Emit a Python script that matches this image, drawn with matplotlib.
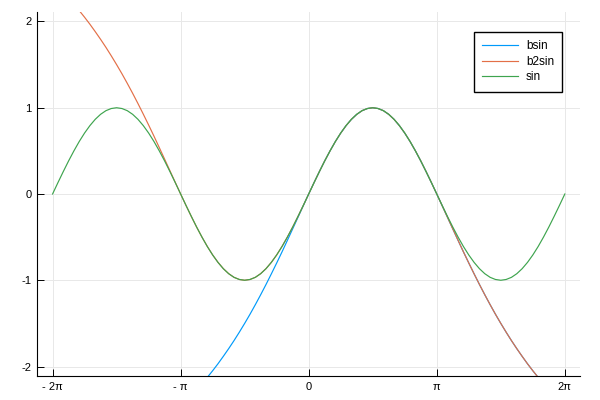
import numpy as np
import matplotlib
matplotlib.use('Agg')
import matplotlib.pyplot as plt

plt.rcParams['font.family'] = ['Liberation Sans', 'DejaVu Sans']
plt.rcParams['axes.unicode_minus'] = False

# sample grid: -2pi .. 2pi in steps of pi/24
x = np.linspace(-2 * np.pi, 2 * np.pi, 97)

sin_period = [0.000, 0.131, 0.259, 0.383, 0.500, 0.609, 0.707, 0.793, 0.866, 0.924, 0.966, 0.991,
              1.000, 0.991, 0.966, 0.924, 0.866, 0.793, 0.707, 0.609, 0.500, 0.383, 0.259, 0.131,
              0.000, -0.131, -0.259, -0.383, -0.500, -0.609, -0.707, -0.793, -0.866, -0.924, -0.966, -0.991,
              -1.000, -0.991, -0.966, -0.924, -0.866, -0.793, -0.707, -0.609, -0.500, -0.383, -0.259, -0.131]
sin_vals = sin_period + sin_period + [0.000]

# bsin covers grid points 29..91
bsin_vals = [-2.126, -2.049, -1.968, -1.882, -1.793, -1.700, -1.602, -1.500, -1.394, -1.283, -1.168,
             -1.049, -0.926, -0.800, -0.671, -0.538, -0.404, -0.269, -0.134, 0.000, 0.132, 0.260,
             0.384, 0.500, 0.608, 0.706, 0.792, 0.865, 0.923, 0.966, 0.991, 1.000,
             0.991, 0.966, 0.923, 0.865, 0.792, 0.706, 0.608, 0.500, 0.384, 0.260, 0.132, 0.000,
             -0.134, -0.269, -0.404, -0.538, -0.671, -0.800, -0.926, -1.049, -1.168, -1.283, -1.394,
             -1.500, -1.602, -1.700, -1.793, -1.882, -1.968, -2.049, -2.126]

# b2sin covers grid points 5..91
b2sin_vals = [2.126, 2.049, 1.968, 1.882, 1.793, 1.700, 1.602, 1.500, 1.394, 1.283, 1.168,
              1.049, 0.926, 0.800, 0.671, 0.538, 0.404, 0.269, 0.134, 0.000, -0.132, -0.260,
              -0.384, -0.500, -0.608, -0.706, -0.792, -0.865, -0.923, -0.966, -0.991, -1.000,
              -0.991, -0.966, -0.923, -0.865, -0.792, -0.706, -0.608, -0.500, -0.384, -0.260, -0.132,
              0.000, 0.132, 0.260, 0.384, 0.500, 0.608, 0.706, 0.792, 0.865, 0.923, 0.966, 0.991, 1.000,
              0.991, 0.966, 0.923, 0.865, 0.792, 0.706, 0.608, 0.500, 0.384, 0.260, 0.132, 0.000,
              -0.134, -0.269, -0.404, -0.538, -0.671, -0.800, -0.926, -1.049, -1.168, -1.283, -1.394,
              -1.500, -1.602, -1.700, -1.793, -1.882, -1.968, -2.049, -2.126]

xtick_pos = [-2 * np.pi, -np.pi, 0, np.pi, 2 * np.pi]
xtick_labels = ['- 2π', '- π', '0', 'π', '2π']
ytick_pos = [-2, -1, 0, 1, 2]

fig = plt.figure(figsize=(6, 4), dpi=100)
ax = fig.add_axes([0.062, 0.06, 0.905, 0.91])

ax.plot(x[29:92], bsin_vals, color='#009AFA', lw=0.85, label='bsin')
ax.plot(x[5:92], b2sin_vals, color='#E36F47', lw=0.85, label='b2sin')
ax.plot(x, sin_vals, color='#3EA44E', lw=0.85, label='sin')

ax.set_xlim(-2 * np.pi * 1.06, 2 * np.pi * 1.06)
ax.set_ylim(-2.11, 2.11)
ax.set_xticks(xtick_pos)
ax.set_xticklabels(xtick_labels)
ax.set_yticks(ytick_pos)

ax.grid(True, color='#e8e8e8', lw=0.7)
ax.set_axisbelow(True)
for s in ['top', 'right']:
    ax.spines[s].set_visible(False)
for s in ['left', 'bottom']:
    ax.spines[s].set_linewidth(0.8)
ax.tick_params(direction='in', length=5, width=0.7, labelsize=8, pad=4)

ax.legend(loc='upper right', bbox_to_anchor=(0.967, 0.945), borderaxespad=0,
          fancybox=False, edgecolor='black', framealpha=1, fontsize=8.5,
          handlelength=3.0, handletextpad=0.7, labelspacing=0.3, borderpad=0.7)

fig.savefig('out.png', dpi=100)
